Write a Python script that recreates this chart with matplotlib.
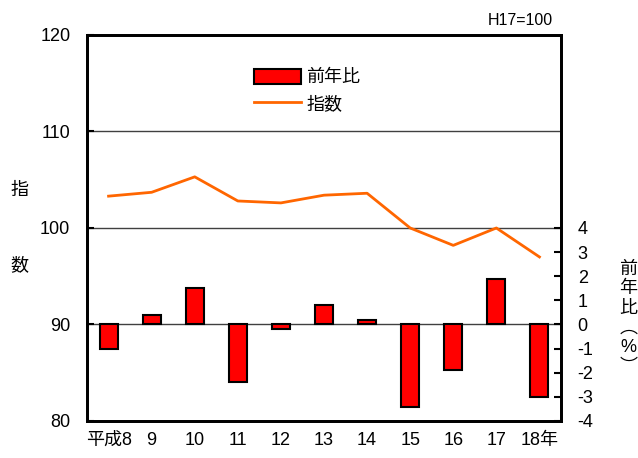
import numpy as np
import matplotlib.pyplot as plt

plt.rcParams['font.family'] = ['Liberation Sans', 'Noto Sans CJK JP', 'DejaVu Sans']
plt.rcParams['axes.unicode_minus'] = False

years = ['平成8', '9', '10', '11', '12', '13', '14', '15', '16', '17', '18年']
index_vals = [103.3, 103.7, 105.3, 102.8, 102.6, 103.4, 103.6, 100.0, 98.2, 100.0, 97.0]
yoy_vals = [-1.0, 0.4, 1.5, -2.4, -0.2, 0.8, 0.2, -3.4, -1.9, 1.9, -3.0]
left_ticks = [80, 90, 100, 110, 120]
right_ticks = [-4, -3, -2, -1, 0, 1, 2, 3, 4]

fig = plt.figure(figsize=(6.38, 4.58), dpi=100)
ax = fig.add_axes([0.1364, 0.0808, 0.7429, 0.8428])
ax2 = ax.twinx()
# index line axis sits on top of the bar axis
ax2.set_zorder(1)
ax.set_zorder(2)
ax.patch.set_visible(False)

x = np.arange(len(years))

# gridlines behind everything
for g in [90, 100, 110]:
    ax2.axhline((g - 90) / 2.5, color='#404040', linewidth=1, zorder=0)

bars = ax2.bar(x, yoy_vals, width=0.42, color='#FF0000', edgecolor='black',
               linewidth=1.5, label='前年比', zorder=2)
line, = ax.plot(x, index_vals, color='#FF6600', linewidth=2, label='指数')

ax.set_xlim(-0.5, len(years) - 0.5)
ax.set_ylim(80, 120)
ax2.set_ylim(-4, 12)
ax.set_yticks(left_ticks)
ax2.set_yticks(right_ticks)
ax.set_xticks(x)
ax.set_xticklabels(years)

for a in (ax, ax2):
    for s in a.spines.values():
        s.set_linewidth(2)
        s.set_color('black')
ax.tick_params(axis='y', direction='in', length=5, width=1.5, labelsize=13, pad=12)
ax.tick_params(axis='x', length=0, labelsize=13, pad=8)
ax2.tick_params(axis='y', direction='in', length=5, width=1.5, labelsize=13, pad=12)

ax.legend([bars, line], ['前年比', '指数'], loc='upper left',
          bbox_to_anchor=(0.318, 0.955), frameon=False, fontsize=13,
          handlelength=2.6, handleheight=0.9, labelspacing=0.5,
          handletextpad=0.3)

fig.text(0.031, 0.585, '指', fontsize=13, ha='center', va='center')
fig.text(0.031, 0.42, '数', fontsize=13, ha='center', va='center')
fig.text(0.985, 0.305, '前\n年\n比\n︵\n%\n︶', fontsize=13, ha='center',
         va='center', linespacing=1.2)
fig.text(0.867, 0.955, 'H17=100', fontsize=11.5, ha='right', va='center')

fig.savefig('out.png', dpi=100)
